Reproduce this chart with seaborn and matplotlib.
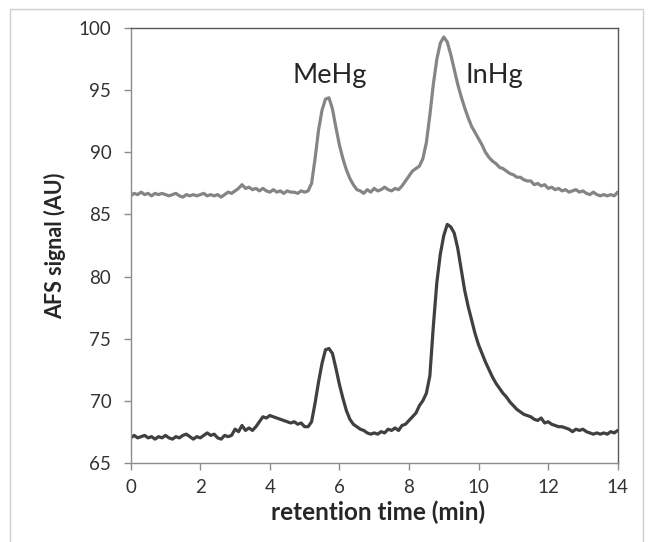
import numpy as np
import pandas as pd
import matplotlib
matplotlib.use("Agg")
import matplotlib.pyplot as plt
import seaborn as sns
from matplotlib.patches import Rectangle

# retention time grid (min), sampled every 0.1 min
time_min = np.round(np.linspace(0.0, 14.0, 141), 1)

# upper trace (light gray)
signal_upper = [
    86.5, 86.7, 86.6, 86.8, 86.6, 86.7, 86.5, 86.7, 86.6, 86.7,
    86.6, 86.5, 86.6, 86.7, 86.5, 86.4, 86.6, 86.5, 86.6, 86.5,
    86.6, 86.7, 86.5, 86.6, 86.5, 86.6, 86.4, 86.6, 86.8, 86.7,
    86.9, 87.1, 87.4, 87.1, 87.2, 87.0, 87.1, 86.9, 87.1, 86.9,
    86.8, 87.0, 86.8, 86.9, 86.7, 86.9, 86.8, 86.8, 86.7, 86.9,
    86.8, 86.9, 87.5, 89.5, 91.8, 93.4, 94.3, 94.4, 93.5, 92.0,
    90.6, 89.5, 88.6, 87.9, 87.4, 87.0, 86.9, 86.7, 87.0, 86.8,
    87.1, 86.9, 87.0, 87.2, 87.0, 86.9, 87.1, 87.0, 87.3, 87.7,
    88.1, 88.5, 88.7, 88.9, 89.5, 90.8, 93.0, 95.5, 97.5, 98.8,
    99.3, 98.9, 97.9, 96.7, 95.5, 94.5, 93.6, 92.8, 92.1, 91.6,
    91.1, 90.6, 90.0, 89.6, 89.3, 89.1, 88.8, 88.7, 88.5, 88.3,
    88.2, 88.0, 88.0, 87.8, 87.7, 87.7, 87.4, 87.5, 87.3, 87.4,
    87.1, 87.2, 87.0, 87.1, 86.9, 87.0, 86.8, 86.9, 87.0, 86.8,
    86.9, 86.7, 86.6, 86.8, 86.6, 86.5, 86.6, 86.5, 86.6, 86.5,
    86.8,
]

# lower trace (dark gray)
signal_lower = [
    67.0, 67.2, 67.0, 67.1, 67.2, 67.0, 67.1, 66.9, 67.1, 67.0,
    67.2, 67.0, 66.9, 67.1, 67.0, 67.2, 67.3, 67.1, 66.9, 67.1,
    67.0, 67.2, 67.4, 67.2, 67.3, 67.0, 66.9, 67.2, 67.1, 67.2,
    67.7, 67.5, 68.0, 67.6, 67.8, 67.6, 67.9, 68.3, 68.7, 68.6,
    68.8, 68.7, 68.6, 68.5, 68.4, 68.3, 68.2, 68.3, 68.1, 68.2,
    67.9, 67.9, 68.3, 69.8, 71.5, 73.0, 74.1, 74.2, 73.8, 72.6,
    71.3, 70.2, 69.2, 68.5, 68.1, 67.9, 67.7, 67.6, 67.4, 67.3,
    67.4, 67.3, 67.5, 67.4, 67.7, 67.6, 67.8, 67.6, 68.0, 68.1,
    68.4, 68.7, 69.0, 69.6, 70.0, 70.6, 72.0, 76.0, 79.5, 81.8,
    83.3, 84.2, 84.0, 83.5, 82.3, 80.6, 78.9, 77.6, 76.5, 75.4,
    74.5, 73.8, 73.1, 72.5, 71.9, 71.4, 71.0, 70.6, 70.3, 69.9,
    69.6, 69.3, 69.1, 68.9, 68.8, 68.7, 68.5, 68.4, 68.6, 68.2,
    68.3, 68.1, 68.0, 67.9, 67.9, 67.8, 67.7, 67.5, 67.7, 67.6,
    67.7, 67.5, 67.4, 67.3, 67.4, 67.3, 67.4, 67.3, 67.5, 67.4,
    67.6,
]

series_names = ["upper", "lower"]
series_colors = ["#858585", "#404040"]
peak_labels = ["MeHg", "InHg"]
peak_label_pos = [(5.73, 96.2), (10.45, 96.2)]
x_ticks = [0, 2, 4, 6, 8, 10, 12, 14]
y_ticks = [65, 70, 75, 80, 85, 90, 95, 100]

df = pd.concat([
    pd.DataFrame({"time": time_min, "signal": signal_upper, "trace": series_names[0]}),
    pd.DataFrame({"time": time_min, "signal": signal_lower, "trace": series_names[1]}),
], ignore_index=True)

sns.set_theme(style="white")
plt.rcParams["font.family"] = ["Lato", "DejaVu Sans"]

fig = plt.figure(figsize=(6.48, 5.42), dpi=100)
fig.patch.set_facecolor("white")
fig.patches.append(Rectangle((10 / 648, -0.05), 633 / 648, 1.05 - 9 / 542,
                             transform=fig.transFigure, fill=False,
                             edgecolor="#cfcfcf", linewidth=1.0))
ax = fig.add_axes([130.7 / 648, 1 - 462.7 / 542, 487 / 648, 434.4 / 542])

sns.lineplot(data=df, x="time", y="signal", hue="trace",
             palette=dict(zip(series_names, series_colors)),
             linewidth=2.3, legend=False, ax=ax, estimator=None)

ax.set_xlim(0, 14)
ax.set_ylim(65, 100)
ax.set_xticks(x_ticks)
ax.set_yticks(y_ticks)
ax.tick_params(axis="both", which="major", direction="out", length=5,
               width=1, color="#8c8c8c", labelsize=13.5, labelcolor="#333333",
               bottom=True, left=True)
ax.tick_params(axis="y", pad=9)
ax.tick_params(axis="x", pad=7)
for side in ["left", "bottom"]:
    ax.spines[side].set_color("#8c8c8c")
    ax.spines[side].set_linewidth(1.0)
for side in ["top", "right"]:
    ax.spines[side].set_color("#5a5a5a")
    ax.spines[side].set_linewidth(1.0)

ax.set_xlabel("retention time (min)", fontsize=17.5, fontweight="bold",
              color="#262626")
ax.set_ylabel("AFS signal (AU)", fontsize=15.5, fontweight="bold",
              color="#262626")
ax.xaxis.label.set_va("center")
ax.yaxis.label.set_va("center")
ax.xaxis.set_label_coords((378 - 130.7) / 487, (462.7 - 512) / 434.4)
ax.yaxis.set_label_coords((55 - 130.7) / 487, (462.7 - 246) / 434.4)

for lab, (tx, ty) in zip(peak_labels, peak_label_pos):
    ax.text(tx, ty, lab, ha="center", va="center", fontsize=19.5, color="#262626")

fig.savefig("out.png", dpi=100)
